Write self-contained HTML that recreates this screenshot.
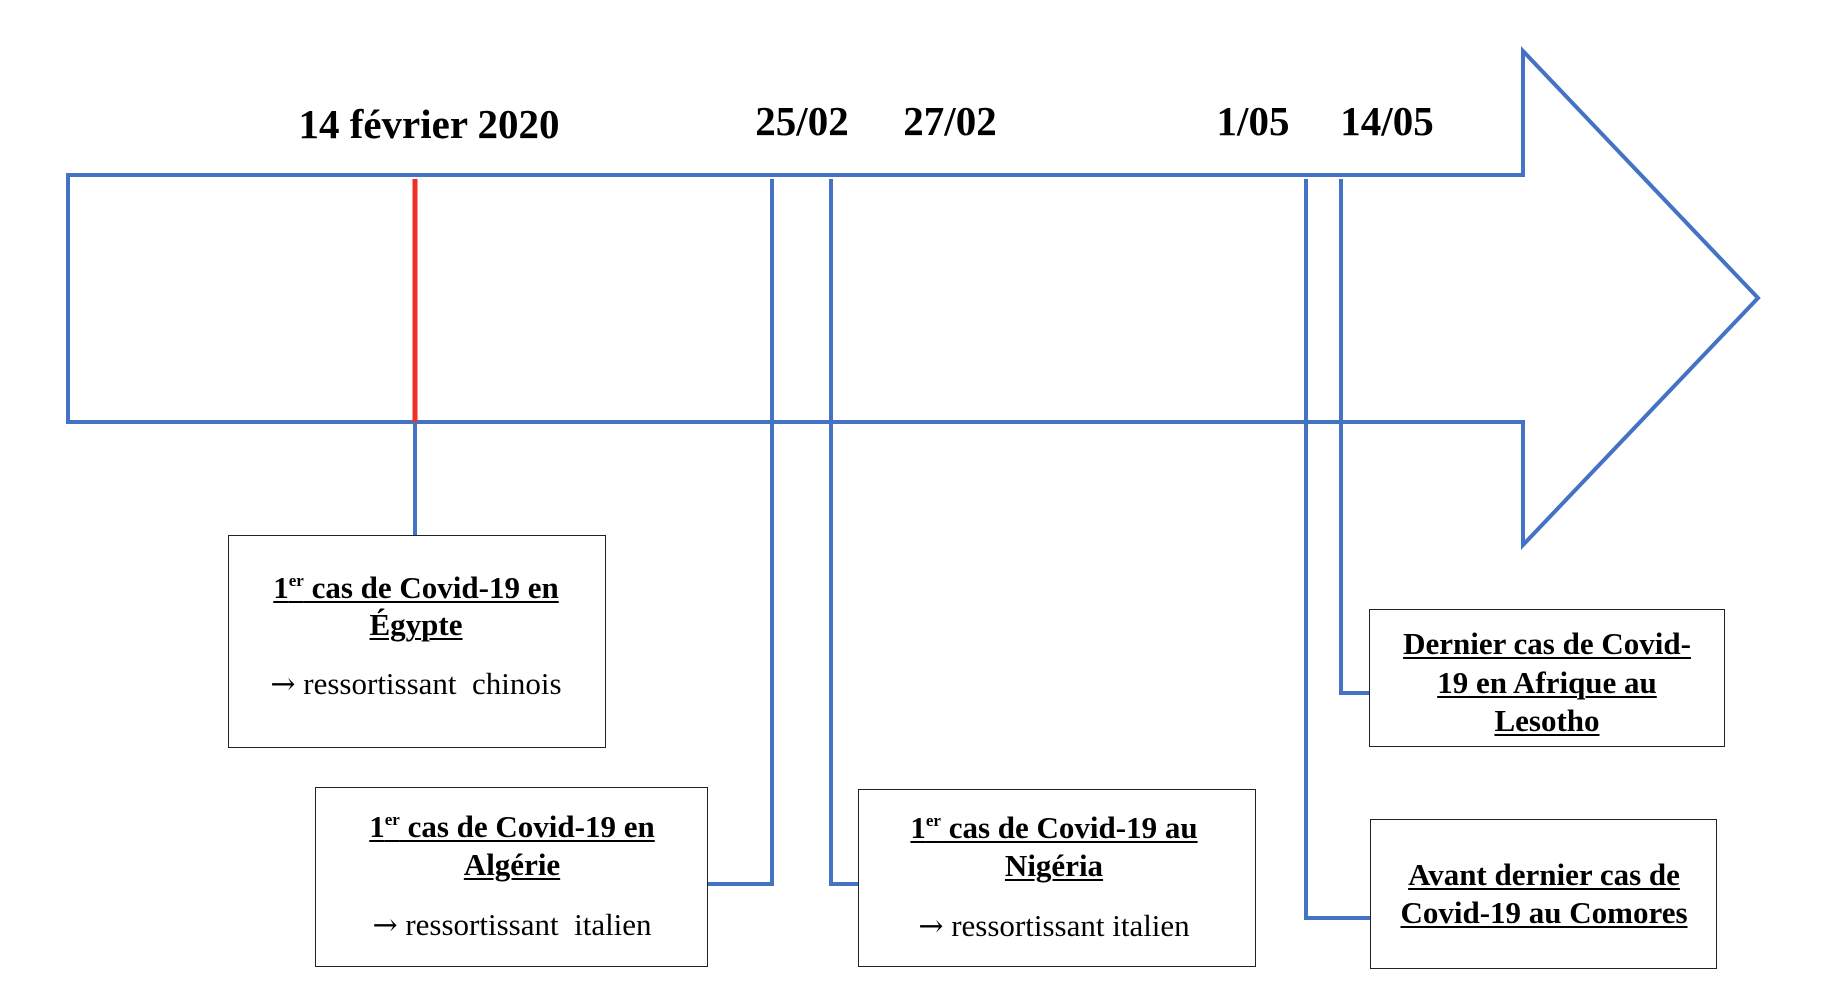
<!DOCTYPE html>
<html><head><meta charset="utf-8"><style>
body{margin:0;width:1838px;height:986px;background:#fff;position:relative;overflow:hidden;font-family:"Liberation Serif","Times New Roman",serif;}
.t{position:absolute;transform:translate(-50%,-50%);white-space:nowrap;color:#000;}
.d{font-weight:bold;font-size:41px;}
.b{font-weight:bold;font-size:31px;text-decoration:underline;text-decoration-thickness:2px;text-underline-offset:3px;}
.n{font-size:31px;}
.ar{font-family:"DejaVu Serif",serif;font-size:30px;}
sup{font-size:17px;vertical-align:12px;line-height:0;}
.box{position:absolute;border:1.3px solid #222;box-sizing:border-box;background:#fff;}
</style></head><body>
<svg width="1838" height="986" style="position:absolute;left:0;top:0">
<g fill="none" stroke="#4472C4" stroke-width="4">
<polygon points="68,175 1523,175 1523,51 1758,298 1523,545 1523,422 68,422"/>
<line x1="415" y1="422" x2="415" y2="536"/>
<polyline points="772,179 772,884 708,884"/>
<polyline points="831,179 831,884 858,884"/>
<polyline points="1306,179 1306,918 1370,918"/>
<polyline points="1341,179 1341,693 1369,693"/>
</g>
<line x1="415" y1="179" x2="415" y2="422" stroke="#EE3124" stroke-width="5"/>
</svg>
<div class="t d" style="left:429px;top:124px">14 février 2020</div>
<div class="t d" style="left:802px;top:121px">25/02</div>
<div class="t d" style="left:950px;top:121px">27/02</div>
<div class="t d" style="left:1253px;top:121px">1/05</div>
<div class="t d" style="left:1387px;top:121px">14/05</div>

<div class="box" style="left:228px;top:535px;width:378px;height:213px"></div>
<div class="t b" style="left:416px;top:588px">1<sup>er</sup> cas de Covid-19 en</div>
<div class="t b" style="left:416px;top:625px">Égypte</div>
<div class="t n" style="left:416px;top:684px"><span class="ar">→</span> ressortissant&nbsp; chinois</div>

<div class="box" style="left:315px;top:787px;width:393px;height:180px"></div>
<div class="t b" style="left:512px;top:827px">1<sup>er</sup> cas de Covid-19 en</div>
<div class="t b" style="left:512px;top:865px">Algérie</div>
<div class="t n" style="left:512px;top:925px"><span class="ar">→</span> ressortissant&nbsp; italien</div>

<div class="box" style="left:858px;top:789px;width:398px;height:178px"></div>
<div class="t b" style="left:1054px;top:828px">1<sup>er</sup> cas de Covid-19 au</div>
<div class="t b" style="left:1054px;top:866px">Nigéria</div>
<div class="t n" style="left:1054px;top:926px"><span class="ar">→</span> ressortissant italien</div>

<div class="box" style="left:1369px;top:609px;width:356px;height:138px"></div>
<div class="t b" style="left:1547px;top:644px">Dernier cas de Covid-</div>
<div class="t b" style="left:1547px;top:683px">19 en Afrique au</div>
<div class="t b" style="left:1547px;top:721px">Lesotho</div>

<div class="box" style="left:1370px;top:819px;width:347px;height:150px"></div>
<div class="t b" style="left:1544px;top:875px">Avant dernier cas de</div>
<div class="t b" style="left:1544px;top:913px">Covid-19 au Comores</div>
</body></html>
